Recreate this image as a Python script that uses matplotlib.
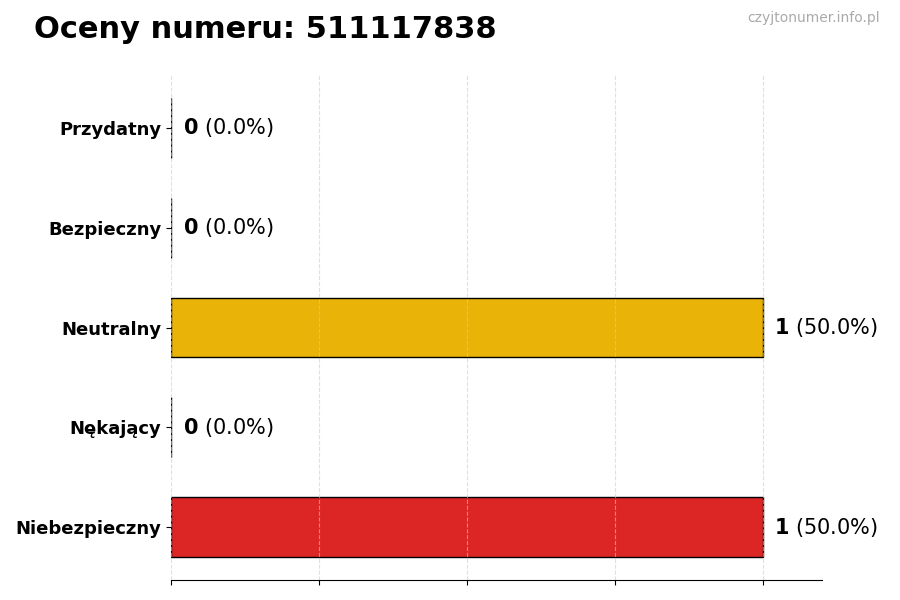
import numpy as np
import matplotlib.pyplot as plt

# dane
kategorie = ["Niebezpieczny", "Nękający", "Neutralny", "Bezpieczny", "Przydatny"]
liczby = [1, 0, 1, 0, 0]
procenty = [50.0, 0.0, 50.0, 0.0, 0.0]
kolory = ["#DC2626", "#F97316", "#EAB308", "#3B82F6", "#22C55E"]
numer = "511117838"

fig = plt.figure(figsize=(9, 6), dpi=100)
ax = fig.add_axes([0.19, 0.0333, 0.723, 0.8417])

y = np.arange(len(kategorie))
ax.barh(y, liczby, height=0.6, color=kolory, edgecolor="black", linewidth=1, zorder=2)

for i, (n, p) in enumerate(zip(liczby, procenty)):
    ax.text(n + 0.02, i, f"$\\bf{{{n}}}$ ({p:.1f}%)", va="center", ha="left", fontsize=15)

ax.set_yticks(y)
ax.set_yticklabels(kategorie, fontsize=13, fontweight="bold")
ax.set_xlim(0, 1.1)
ax.set_xticks([0, 0.25, 0.5, 0.75, 1.0])
ax.set_xticklabels([])
ax.xaxis.grid(True, linestyle="--", color="#cccccc", linewidth=0.8, alpha=0.6, zorder=3)
ax.set_axisbelow(False)
for s in ["top", "right", "left"]:
    ax.spines[s].set_visible(False)

fig.text(0.038, 0.95, f"Oceny numeru: {numer}", fontsize=22, fontweight="bold", va="center", ha="left")
fig.text(0.978, 0.97, "czyjtonumer.info.pl", fontsize=10, color="#aaaaaa", va="center", ha="right")

plt.savefig("out.png", dpi=100)
